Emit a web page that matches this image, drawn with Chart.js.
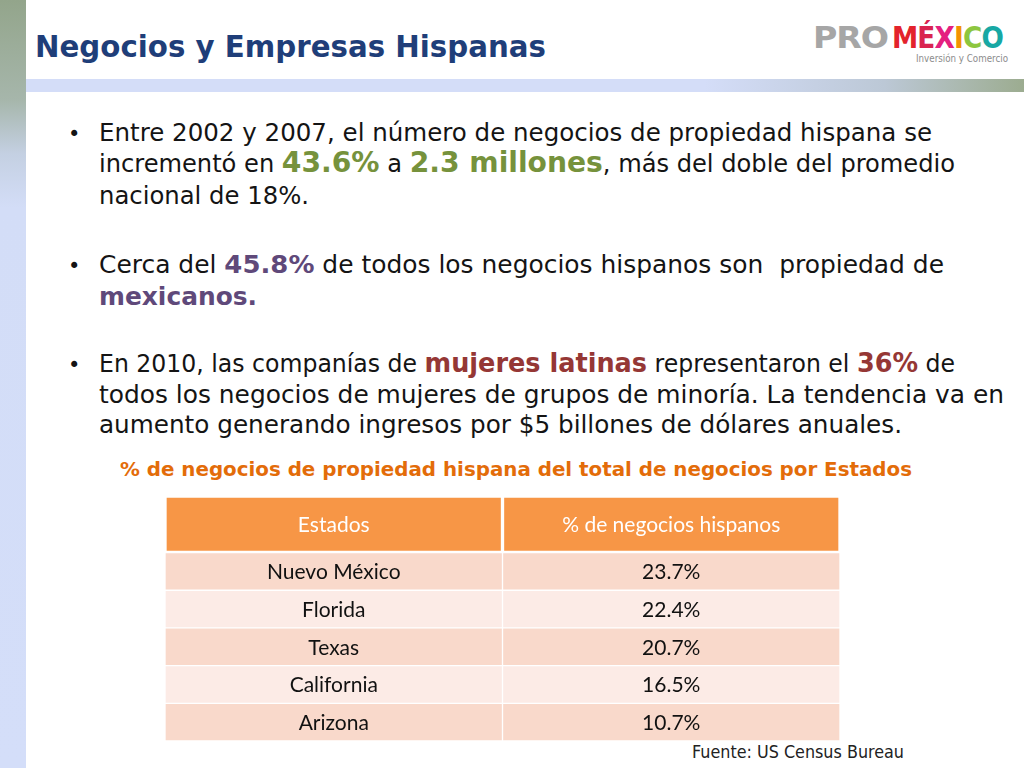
<!DOCTYPE html>
<html lang="es">
<head>
  <meta charset="UTF-8" />
  <title>Negocios y Empresas Hispanas</title>
  <script src="https://cdn.jsdelivr.net/npm/chart.js"></script>
  <style>
    body {
      margin: 0;
      background: #fff;
    }

    .slide {
      position: relative;
      width: 1024px;
      height: 768px;
      overflow: hidden;
      background: #fff;
      font-family: "DejaVu Sans", sans-serif;
      color: #141414;
    }

    .side-bar {
      position: absolute;
      left: 0;
      top: 0;
      width: 26px;
      height: 768px;
      background: linear-gradient(to bottom, #93a58b 0%, #a6b6ab 13%, #c4d0e2 20%, #d3ddf7 27%, #d4def9 100%);
    }

    .top-band {
      position: absolute;
      left: 26px;
      top: 79px;
      width: 998px;
      height: 13px;
      background: linear-gradient(to right, #d4ddf8 0%, #d4ddf8 68%, #bcc8d6 86%, #9cac90 100%);
    }

    .ln {
      position: absolute;
      white-space: pre;
      line-height: 1.2;
      transform-origin: left top;
    }

    .title { font-size: 30px; font-weight: bold; color: #1f3e79; }
    .body  { font-size: 24px; }
    .green { color: #76923c; font-weight: bold; font-size: 28px; }
    .purple { color: #5f497a; font-weight: bold; font-size: 25px; }
    .red { color: #953735; font-weight: bold; font-size: 26px; }
    .subtitle { font-size: 20px; font-weight: bold; color: #e36c09; }
    .source { font-size: 17px; color: #222; }
    .bullet { font-size: 21px; }

    .logo { font-size: 31px; font-weight: bold; letter-spacing: -1px; }
    .tagline { font-size: 10px; color: #8c8c8c; }

    .table-box {
      position: absolute;
      left: 165px;
      top: 496px;
      width: 675px;
      height: 245px;
    }
  </style>
</head>
<body>
  <div class="slide" id="slide">
    <div class="side-bar"></div>
    <div class="top-band"></div>

    <div class="ln title" data-x="35" data-b="57" data-w="511">Negocios y Empresas Hispanas</div>

    <div class="ln logo" data-x="813" data-b="48" data-w="75" style="color:#a6a6a6">PRO</div>
    <div class="ln logo" data-x="892" data-b="48" data-w="111"><span style="color:#e3232c">M</span><span style="color:#d9234f">É</span><span style="color:#e4207f">X</span><span style="color:#f39200">I</span><span style="color:#8dc63f">C</span><span style="color:#17a8a4">O</span></div>
    <div class="ln tagline" data-x="916" data-b="62" data-w="92">Inversión y Comercio</div>

    <div class="ln bullet" data-x="68" data-b="141">•</div>
    <div class="ln body" data-x="99" data-b="141" data-w="833">Entre 2002 y 2007, el número de negocios de propiedad hispana se</div>
    <div class="ln body" data-x="99" data-b="172" data-w="856">incrementó en <span class="green">43.6%</span> a <span class="green">2.3 millones</span>, más del doble del promedio</div>
    <div class="ln body" data-x="99" data-b="204" data-w="210">nacional de 18%.</div>

    <div class="ln bullet" data-x="68" data-b="273">•</div>
    <div class="ln body" data-x="99" data-b="273" data-w="845">Cerca del <span class="purple">45.8%</span> de todos los negocios hispanos son  propiedad de</div>
    <div class="ln body" data-x="99" data-b="305" data-w="158"><span class="purple" style="font-size:24px">mexicanos.</span></div>

    <div class="ln bullet" data-x="68" data-b="372">•</div>
    <div class="ln body" data-x="99" data-b="372" data-w="856">En 2010, las companías de <span class="red">mujeres latinas</span> representaron el <span class="red">36%</span> de</div>
    <div class="ln body" data-x="99" data-b="403" data-w="905">todos los negocios de mujeres de grupos de minoría. La tendencia va en</div>
    <div class="ln body" data-x="99" data-b="433" data-w="803">aumento generando ingresos por $5 billones de dólares anuales.</div>

    <div class="ln subtitle" data-x="120" data-b="476" data-w="792">% de negocios de propiedad hispana del total de negocios por Estados</div>

    <div class="table-box">
      <canvas id="tableChart"></canvas>
    </div>

    <div class="ln source" data-x="692" data-b="758" data-w="212">Fuente: US Census Bureau</div>
  </div>

  <script>
    // table content
    const columns = ["Estados", "% de negocios hispanos"];
    const states = ["Nuevo México", "Florida", "Texas", "California", "Arizona"];
    const shares = [23.7, 22.4, 20.7, 16.5, 10.7];

    const headerColor = "#f79646";
    const bandColors = ["#f9d9cb", "#fcebe6"];
    const headerSpan = 1.5;

    // place every text line on its baseline and stretch it to the width in the slide
    function placeLines() {
      document.querySelectorAll(".ln").forEach(el => {
        const mark = document.createElement("span");
        mark.style.cssText = "display:inline-block;width:0;height:0;vertical-align:baseline";
        el.appendChild(mark);
        el.style.left = el.dataset.x + "px";
        el.style.top = "0px";
        const baseOffset = mark.offsetTop;
        el.style.top = (parseFloat(el.dataset.b) - baseOffset) + "px";
        if (el.dataset.w) {
          const natural = el.getBoundingClientRect().width;
          el.style.transform = "scaleX(" + (parseFloat(el.dataset.w) / natural) + ")";
        }
      });
    }

    const cellText = {
      id: "cellText",
      afterDatasetsDraw(chart) {
        const ctx = chart.ctx;
        ctx.save();
        ctx.textAlign = "center";
        ctx.textBaseline = "middle";
        ctx.font = "21px Lato, 'Liberation Sans', sans-serif";
        chart.data.datasets.forEach((ds, i) => {
          chart.getDatasetMeta(i).data.forEach((bar, j) => {
            let text;
            if (i === 0) {
              text = columns[j];
              ctx.fillStyle = "#ffffff";
            } else {
              text = j === 0 ? states[i - 1] : shares[i - 1].toFixed(1) + "%";
              ctx.fillStyle = "#111111";
            }
            ctx.fillText(text, bar.x, (bar.y + bar.base) / 2 + 1);
          });
        });
        ctx.restore();
      }
    };

    function drawTable() {
      const datasets = [{
        label: "header",
        data: columns.map(() => [0, headerSpan]),
        backgroundColor: headerColor,
        borderColor: "#ffffff",
        borderWidth: 2,
        borderSkipped: false,
        grouped: false,
        barPercentage: 1,
        categoryPercentage: 1
      }];

      states.forEach((state, i) => {
        datasets.push({
          label: state,
          data: columns.map(() => [headerSpan + i, headerSpan + i + 1]),
          backgroundColor: bandColors[i % 2],
          borderColor: "#ffffff",
          borderWidth: 1,
          borderSkipped: false,
          grouped: false,
          barPercentage: 1,
          categoryPercentage: 1
        });
      });

      new Chart(document.getElementById("tableChart"), {
        type: "bar",
        data: { labels: columns, datasets: datasets },
        options: {
          responsive: true,
          maintainAspectRatio: false,
          animation: false,
          layout: { padding: 0 },
          plugins: {
            legend: { display: false },
            tooltip: { enabled: false }
          },
          scales: {
            x: { display: false },
            y: {
              display: false,
              reverse: true,
              min: 0,
              max: headerSpan + states.length
            }
          }
        },
        plugins: [cellText]
      });
    }

    placeLines();
    drawTable();
  </script>
</body>
</html>
